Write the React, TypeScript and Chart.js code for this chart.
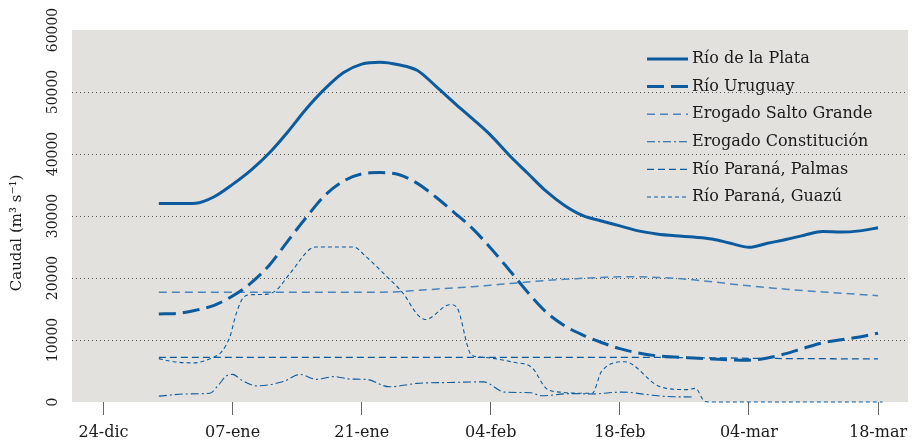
import React, { useEffect, useRef } from "react";
import { Chart, registerables } from "chart.js";

Chart.register(...registerables);

// Day 0 = 24-dic
const TICK_DAYS = [0, 14, 28, 42, 56, 70, 84];
const TICK_LABELS = ["24-dic", "07-ene", "21-ene", "04-feb", "18-feb", "04-mar", "18-mar"];
const Y_TICKS = [0, 10000, 20000, 30000, 40000, 50000, 60000];
const GRID_VALUES = [10000, 20000, 30000, 40000, 50000];

const DAYS = [6, 8, 10, 12, 14, 16, 18, 20, 22, 24, 26, 28, 30, 32, 34, 36, 38, 40, 42, 44, 46, 48, 50, 52, 54, 56, 58, 60, 62, 64, 66, 68, 70, 72, 74, 76, 78, 80, 82, 84];

const PLATA = [32000, 32000, 32050, 33100, 35100, 37400, 40200, 43600, 47300, 50500, 53100, 54500, 54800, 54400, 53500, 51000, 48300, 45700, 43000, 39800, 36900, 34000, 31700, 30050, 29200, 28400, 27600, 27100, 26800, 26600, 26300, 25600, 24950, 25600, 26200, 26900, 27500, 27400, 27600, 28100];

const URUGUAY = [14200, 14300, 14800, 15600, 17100, 19200, 22100, 26000, 29800, 33300, 35600, 36800, 37000, 36700, 35300, 33100, 30600, 28000, 24800, 21300, 17700, 14500, 12300, 10800, 9600, 8600, 7900, 7450, 7250, 7100, 6950, 6800, 6750, 7100, 7800, 8700, 9550, 10050, 10500, 11100];

const SALTO = [17700, 17700, 17700, 17700, 17700, 17700, 17700, 17700, 17700, 17700, 17700, 17700, 17700, 17800, 18000, 18200, 18400, 18600, 18850, 19100, 19350, 19600, 19800, 19950, 20100, 20200, 20200, 20100, 19950, 19700, 19400, 19050, 18750, 18450, 18200, 17950, 17750, 17550, 17350, 17150];

const PALMAS = [7200, 7200, 7200, 7200, 7200, 7200, 7200, 7200, 7200, 7200, 7200, 7200, 7200, 7200, 7200, 7200, 7200, 7200, 7200, 7200, 7200, 7200, 7200, 7200, 7200, 7200, 7200, 7200, 7150, 7150, 7100, 7100, 7050, 7050, 7000, 7000, 7000, 6950, 6950, 6950];

const CONST_DAYS = [6, 9, 11.5, 12.5, 13.3, 14, 15, 16.6, 19.5, 21.3, 23.1, 25, 26.7, 28.5, 31, 34, 37.6, 41.2, 43.5, 46.3, 47.5, 50.6, 53, 56.2, 59.5, 61, 64];
const CONSTITUCION = [950, 1300, 1400, 2800, 4200, 4450, 3500, 2600, 3300, 4450, 3650, 4100, 3700, 3650, 2450, 3000, 3150, 3250, 1600, 1500, 1000, 1350, 1300, 1600, 1100, 900, 800];

const GUAZU_DAYS = [6, 7.6, 9.7, 11.9, 12.8, 13.7, 14.4, 15.2, 16, 17.8, 18.8, 20.2, 23, 27.1, 28.5, 30.4, 32.5, 34.1, 34.9, 37.6, 38.3, 39.9, 41.2, 44.5, 46.5, 48, 49.5, 53, 54, 56.5, 60.3, 63.3, 64.2, 65.2, 66, 84.5];
const GUAZU = [7000, 6500, 6300, 7200, 8100, 10500, 14300, 16900, 17300, 17400, 18100, 20700, 25000, 25000, 23400, 20700, 17500, 14000, 13300, 15700, 15300, 7600, 7200, 6400, 5500, 2200, 1600, 1400, 4900, 6500, 2500, 2000, 2200, 100, 0, 0];

const FONT = "'DejaVu Serif', serif";
const DARK = "#0b5b9e";
const LIGHT = "#4a86bb";
const BG = "#e2e1dd";

const pts = (xs: number[], ys: number[]) => xs.map((x, i) => ({ x, y: ys[i] }));

const decor = {
  id: "decor",
  beforeDraw(chart: any) {
    const { ctx, chartArea: a } = chart;
    ctx.save();
    ctx.fillStyle = BG;
    ctx.fillRect(a.left, a.top, a.right - a.left, a.bottom - a.top);
    ctx.restore();
  },
  beforeDatasetsDraw(chart: any) {
    const { ctx, chartArea: a } = chart;
    const y = chart.scales.y;
    ctx.save();
    ctx.strokeStyle = "#555";
    ctx.lineWidth = 1;
    ctx.setLineDash([1, 3]);
    GRID_VALUES.forEach((v) => {
      const py = Math.round(y.getPixelForValue(v)) + 0.5;
      ctx.beginPath();
      ctx.moveTo(a.left, py);
      ctx.lineTo(a.right, py);
      ctx.stroke();
    });
    ctx.restore();
  },
  afterDraw(chart: any) {
    const { ctx, chartArea: a } = chart;
    const y = chart.scales.y;
    ctx.save();
    ctx.fillStyle = "#1a1a1a";
    ctx.font = `14px ${FONT}`;
    ctx.textAlign = "center";
    ctx.textBaseline = "middle";
    Y_TICKS.forEach((v) => {
      const py = y.getPixelForValue(v);
      ctx.save();
      ctx.translate(a.left - 19, py);
      ctx.rotate(-Math.PI / 2);
      ctx.fillText(String(v), 0, 0);
      ctx.restore();
    });
    ctx.font = `15px ${FONT}`;
    ctx.save();
    ctx.translate(17, 233);
    ctx.rotate(-Math.PI / 2);
    ctx.fillText("Caudal (m³ s⁻¹)", 0, 0);
    ctx.restore();

    // legend
    const x0 = a.right - 261;
    const x1 = a.right - 220;
    const tx = a.right - 216;
    chart.data.datasets.forEach((ds: any, i: number) => {
      const ly = a.top + 29 + i * 27.6;
      ctx.save();
      ctx.strokeStyle = ds.borderColor;
      ctx.lineWidth = ds.borderWidth;
      ctx.setLineDash(ds.borderDash || []);
      ctx.beginPath();
      ctx.moveTo(x0, ly);
      ctx.lineTo(x1, ly);
      ctx.stroke();
      ctx.restore();
      ctx.fillStyle = "#1a1a1a";
      ctx.font = `16px ${FONT}`;
      ctx.textAlign = "left";
      ctx.textBaseline = "middle";
      ctx.fillText(ds.label, tx, ly);
    });
    ctx.restore();
  },
};

export default function App() {
  const ref = useRef<HTMLCanvasElement>(null);
  useEffect(() => {
    document.body.style.margin = "0";
    const chart = new Chart(ref.current as HTMLCanvasElement, {
      type: "line",
      data: {
        datasets: [
          { label: "Río de la Plata", data: pts(DAYS, PLATA), borderColor: DARK, borderWidth: 3, borderDash: [] },
          { label: "Río Uruguay", data: pts(DAYS, URUGUAY), borderColor: DARK, borderWidth: 3, borderDash: [17, 7] },
          { label: "Erogado Salto Grande", data: pts(DAYS, SALTO), borderColor: LIGHT, borderWidth: 1.5, borderDash: [8, 5] },
          { label: "Erogado Constitución", data: pts(CONST_DAYS, CONSTITUCION), borderColor: DARK, borderWidth: 1.1, borderDash: [8, 3, 2, 3] },
          { label: "Río Paraná, Palmas", data: pts(DAYS, PALMAS), borderColor: DARK, borderWidth: 1.3, borderDash: [7, 4] },
          { label: "Río Paraná, Guazú", data: pts(GUAZU_DAYS, GUAZU), borderColor: DARK, borderWidth: 1.1, borderDash: [4, 3] },
        ] as any,
      },
      options: {
        animation: false,
        responsive: false,
        events: [],
        layout: { padding: { top: 30, right: 4, left: 0, bottom: 0 } },
        elements: {
          point: { radius: 0 },
          line: { cubicInterpolationMode: "monotone", fill: false },
        },
        datasets: { line: { clip: 6 } } as any,
        plugins: { legend: { display: false }, tooltip: { enabled: false } },
        scales: {
          x: {
            type: "linear",
            min: -3.42,
            max: 87.25,
            afterBuildTicks: (s: any) => {
              s.ticks = TICK_DAYS.map((v) => ({ value: v }));
            },
            afterFit: (s: any) => {
              s.height = 41;
              s.paddingLeft = 0;
              s.paddingRight = 0;
            },
            ticks: {
              autoSkip: false,
              maxRotation: 0,
              padding: 8,
              color: "#1a1a1a",
              font: { family: FONT, size: 16 },
              callback: (v: any) => {
                const i = TICK_DAYS.indexOf(Number(v));
                return i >= 0 ? TICK_LABELS[i] : "";
              },
            },
            grid: { drawOnChartArea: false, drawTicks: true, tickLength: 13, tickColor: "#666", color: "#666" },
            border: { display: false },
          },
          y: {
            min: 0,
            max: 60000,
            afterFit: (s: any) => {
              s.width = 72;
            },
            ticks: { display: false },
            grid: { display: false },
            border: { display: false },
          },
        },
      },
      plugins: [decor],
    } as any);
    return () => chart.destroy();
  }, []);
  return (
    <div style={{ position: "absolute", left: 0, top: 0, width: 912, height: 443 }}>
      <canvas ref={ref} width={912} height={443} />
    </div>
  );
}
